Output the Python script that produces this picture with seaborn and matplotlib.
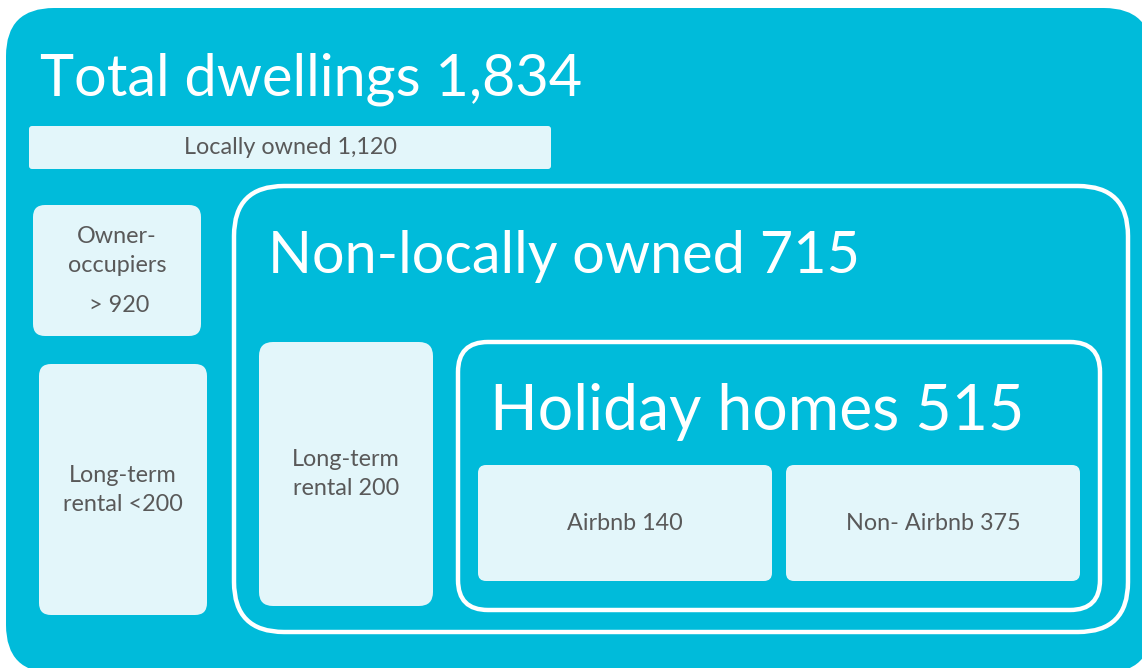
import matplotlib
matplotlib.use("Agg")
import matplotlib.pyplot as plt
import seaborn as sns
from matplotlib.patches import FancyBboxPatch

# --- data ---
total_label = "Total dwellings"
total_value = 1834
local_label = "Locally owned"
local_value = 1120
nonlocal_label = "Non-locally owned"
nonlocal_value = 715
holiday_label = "Holiday homes"
holiday_value = 515
owner_label = "Owner-\noccupiers"
owner_value = "> 920"
local_rental_label = "Long-term\nrental <200"
nonlocal_rental_label = "Long-term\nrental 200"
holiday_parts = ["Airbnb", "Non- Airbnb"]
holiday_values = [140, 375]

# --- style ---
CYAN = "#00BBDA"
LIGHT = "#E3F6FA"
DARK_TEXT = "#595959"
FONT = ["Lato", "DejaVu Sans"]
BIG = 41.5
SMALL = 16.8
LS = 1.45

sns.set_theme(style="white")
plt.rcParams["font.family"] = FONT

fig = plt.figure(figsize=(11.42, 6.68), dpi=100)
ax = fig.add_axes([0, 0, 1, 1])
ax.set_xlim(0, 1142)
ax.set_ylim(668, 0)
ax.set_aspect("equal")
ax.axis("off")


def box(x, y, w, h, r, face, edge="none", lw=0):
    p = FancyBboxPatch((x, y), w, h, boxstyle=f"round,pad=0,rounding_size={r}",
                       facecolor=face, edgecolor=edge, linewidth=lw)
    ax.add_patch(p)


# outer container (runs off the right/bottom edge)
box(6, 8, 1146, 665, 48, CYAN)
ax.text(40, 96, f"{total_label} {total_value:,}", color="white", fontsize=BIG,
        ha="left", va="baseline")

# locally owned
box(29, 126, 522, 43, 3, LIGHT)
ax.text(290, 148, f"{local_label} {local_value:,}", color=DARK_TEXT, fontsize=SMALL,
        ha="center", va="center")

box(33, 205, 168, 131, 12, LIGHT)
ax.text(117, 251, owner_label, color=DARK_TEXT, fontsize=SMALL,
        ha="center", va="center", linespacing=LS)
ax.text(119, 305, owner_value, color=DARK_TEXT, fontsize=SMALL,
        ha="center", va="center")

box(39, 364, 168, 251, 12, LIGHT)
ax.text(123, 490, local_rental_label, color=DARK_TEXT, fontsize=SMALL,
        ha="center", va="center", linespacing=LS)

# non-locally owned
box(234, 186, 894, 446, 50, "none", "white", 3.2)
ax.text(268, 273, f"{nonlocal_label} {nonlocal_value:,}", color="white", fontsize=BIG,
        ha="left", va="baseline")
box(259, 342, 174, 264, 14, LIGHT)
ax.text(346, 474, nonlocal_rental_label, color=DARK_TEXT, fontsize=SMALL,
        ha="center", va="center", linespacing=LS)

# holiday homes
box(458, 342, 642, 268, 30, "none", "white", 3.2)
ax.text(490, 430, f"{holiday_label} {holiday_value:,}", color="white", fontsize=45,
        ha="left", va="baseline")
hol_boxes = [(478, 465, 294, 116), (786, 465, 294, 116)]
for (x, y, w, h), lab, v in zip(hol_boxes, holiday_parts, holiday_values):
    box(x, y, w, h, 8, LIGHT)
    ax.text(x + w / 2, y + h / 2, f"{lab} {v}", color=DARK_TEXT, fontsize=SMALL,
            ha="center", va="center")

fig.savefig("out.png", dpi=100, facecolor="white")
